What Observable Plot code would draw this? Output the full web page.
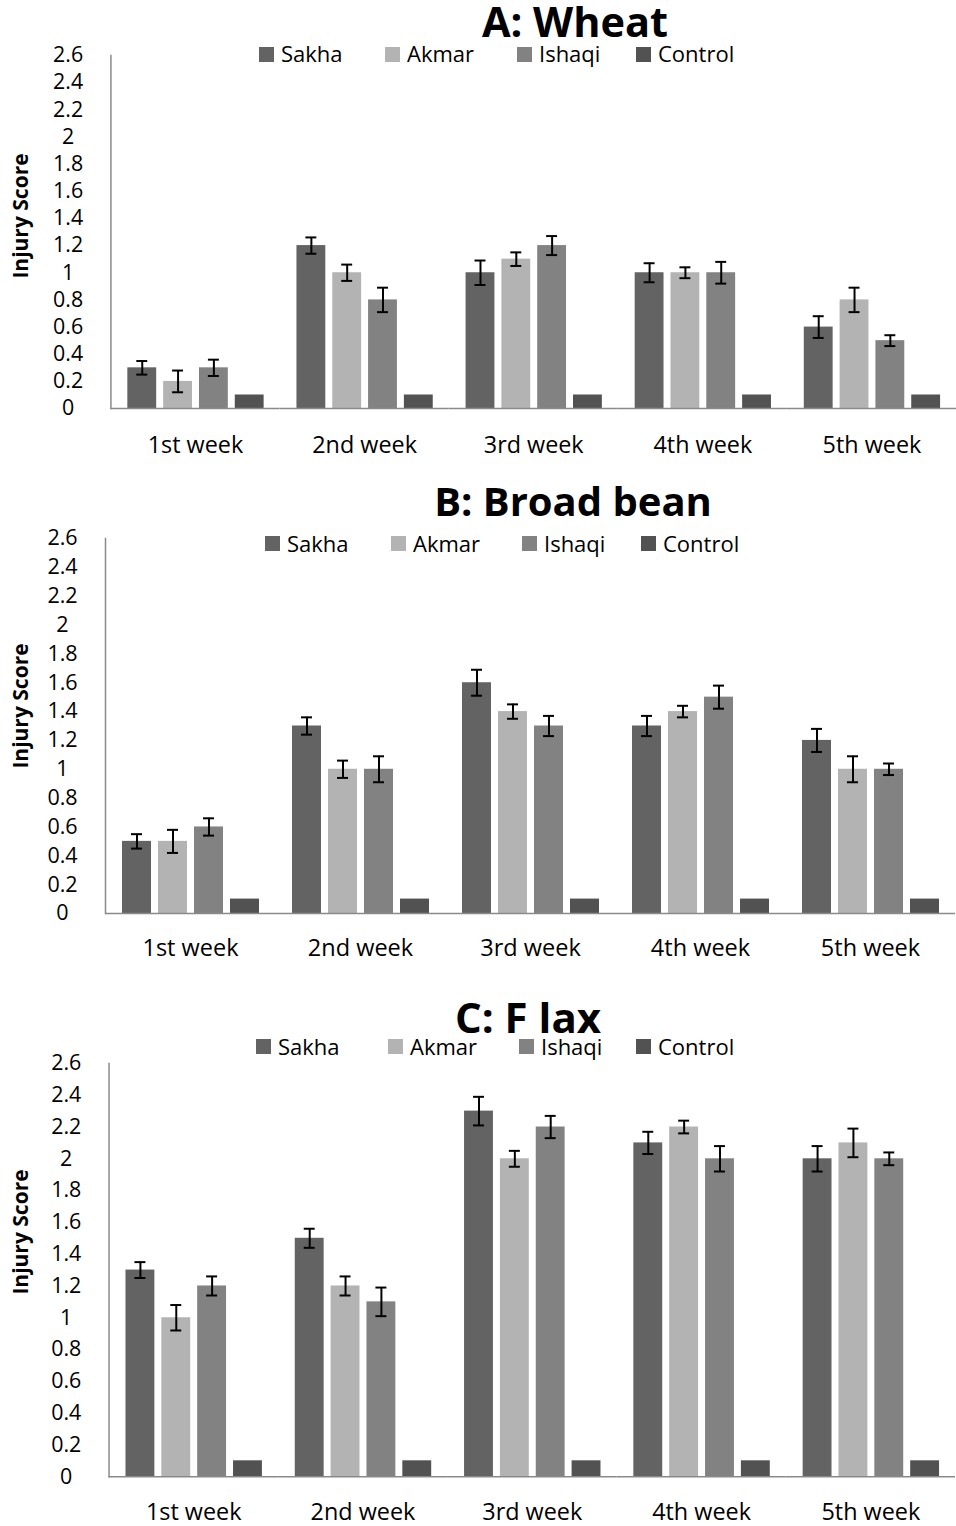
<!DOCTYPE html>
<html>
<head>
<meta charset="utf-8">
<script src="https://cdn.jsdelivr.net/npm/d3@7"></script>
<script src="https://cdn.jsdelivr.net/npm/@observablehq/plot@0.6"></script>
<style>
  html, body { margin: 0; padding: 0; background: #fff; overflow: hidden; }
  #root { position: relative; width: 956px; height: 1526px; overflow: hidden; font-family: "Open Sans", sans-serif; color: #000; }
  .abs { position: absolute; white-space: nowrap; }
  .title { font-weight: 700; transform: translateX(-50%); }
  .leg { font-size: 22px; line-height: 22px; }
  .sq { width: 15px; height: 15px; }
  .ylab { font-size: 21px; font-weight: 700; line-height: 21px; transform: translate(-50%, -50%) rotate(-90deg); }
  svg { position: absolute; }
</style>
</head>
<body>
<div id="root"></div>
<script>
// ---------- data ----------
const weeks = ["1st week", "2nd week", "3rd week", "4th week", "5th week"];
const series = ["Sakha", "Akmar", "Ishaqi", "Control"];
const seriesColors = ["#636363", "#b3b3b3", "#828282", "#525252"];
const yTicks = [0, 0.2, 0.4, 0.6, 0.8, 1, 1.2, 1.4, 1.6, 1.8, 2, 2.2, 2.4, 2.6];

const wheatSakha   = [0.3, 1.2, 1.0, 1.0, 0.6];
const wheatAkmar   = [0.2, 1.0, 1.1, 1.0, 0.8];
const wheatIshaqi  = [0.3, 0.8, 1.2, 1.0, 0.5];
const wheatControl = [0.1, 0.1, 0.1, 0.1, 0.1];
const wheatSakhaErr  = [0.05, 0.06, 0.09, 0.07, 0.08];
const wheatAkmarErr  = [0.08, 0.06, 0.05, 0.04, 0.09];
const wheatIshaqiErr = [0.06, 0.09, 0.07, 0.08, 0.04];

const beanSakha   = [0.5, 1.3, 1.6, 1.3, 1.2];
const beanAkmar   = [0.5, 1.0, 1.4, 1.4, 1.0];
const beanIshaqi  = [0.6, 1.0, 1.3, 1.5, 1.0];
const beanControl = [0.1, 0.1, 0.1, 0.1, 0.1];
const beanSakhaErr  = [0.05, 0.06, 0.09, 0.07, 0.08];
const beanAkmarErr  = [0.08, 0.06, 0.05, 0.04, 0.09];
const beanIshaqiErr = [0.06, 0.09, 0.07, 0.08, 0.04];

const flaxSakha   = [1.3, 1.5, 2.3, 2.1, 2.0];
const flaxAkmar   = [1.0, 1.2, 2.0, 2.2, 2.1];
const flaxIshaqi  = [1.2, 1.1, 2.2, 2.0, 2.0];
const flaxControl = [0.1, 0.1, 0.1, 0.1, 0.1];
const flaxSakhaErr  = [0.05, 0.06, 0.09, 0.07, 0.08];
const flaxAkmarErr  = [0.08, 0.06, 0.05, 0.04, 0.09];
const flaxIshaqiErr = [0.06, 0.09, 0.07, 0.08, 0.04];

const titles = ["A: Wheat", "B: Broad bean", "C: F lax"];
const yLabel = "Injury Score";

// ---------- layout ----------
const layouts = [
  {top: 40,   width: 961, height: 420, marginLeft: 111, marginBottom: 50, tickPad: 28,
   titleX: 575, titleBase: 38, titleSize: 41.5, legBase: 61.5, legX: [259, 385, 517, 636], ylabY: 216},
  {top: 523,  width: 955, height: 440, marginLeft: 105, marginBottom: 50, tickPad: 26,
   titleX: 573, titleBase: 517, titleSize: 40, legBase: 551, legX: [265, 391, 522, 641], ylabY: 706},
  {top: 1048, width: 960, height: 478, marginLeft: 108, marginBottom: 48, tickPad: 27,
   titleX: 528, titleBase: 1033, titleSize: 42, legBase: 1054, legX: [256, 388, 519, 636], ylabY: 1232}
];

const panels = [
  {values: [wheatSakha, wheatAkmar, wheatIshaqi, wheatControl], errors: [wheatSakhaErr, wheatAkmarErr, wheatIshaqiErr, null]},
  {values: [beanSakha, beanAkmar, beanIshaqi, beanControl], errors: [beanSakhaErr, beanAkmarErr, beanIshaqiErr, null]},
  {values: [flaxSakha, flaxAkmar, flaxIshaqi, flaxControl], errors: [flaxSakhaErr, flaxAkmarErr, flaxIshaqiErr, null]}
];

const root = document.getElementById("root");

function el(cls, text, css) {
  const d = document.createElement("div");
  d.className = "abs " + cls;
  if (text != null) d.textContent = text;
  Object.assign(d.style, css);
  root.appendChild(d);
  return d;
}

panels.forEach((p, k) => {
  const L = layouts[k];
  const rows = [];
  weeks.forEach((w, i) => series.forEach((s, j) => rows.push({
    week: w, series: s, value: p.values[j][i], err: p.errors[j] ? p.errors[j][i] : null
  })));
  const errRows = rows.filter(d => d.err != null);

  const chart = Plot.plot({
    width: L.width,
    height: L.height,
    marginLeft: L.marginLeft,
    marginRight: 0,
    marginTop: 15,
    marginBottom: L.marginBottom,
    style: {fontFamily: "'Open Sans', sans-serif", color: "#000", background: "transparent", overflow: "visible"},
    fx: {domain: weeks, padding: 0, label: null},
    x: {domain: series, paddingInner: 0.2, paddingOuter: 0.4, axis: null},
    y: {domain: [0, 2.6], axis: null},
    color: {domain: series, range: seriesColors},
    marks: [
      Plot.barY(rows, {fx: "week", x: "series", y: "value", fill: "series"}),
      Plot.ruleY([0], {stroke: "#8a8a8a", strokeWidth: 1.5}),
      Plot.frame({anchor: "left", facet: "super", stroke: "#8a8a8a", strokeWidth: 1.5}),
      Plot.ruleX(errRows, {fx: "week", x: "series", y1: d => d.value - d.err, y2: d => d.value + d.err, stroke: "#000", strokeWidth: 2}),
      Plot.tickY(errRows, {fx: "week", x: "series", y: d => d.value + d.err, stroke: "#000", strokeWidth: 2, insetLeft: 9, insetRight: 9}),
      Plot.tickY(errRows, {fx: "week", x: "series", y: d => d.value - d.err, stroke: "#000", strokeWidth: 2, insetLeft: 9, insetRight: 9}),
      Plot.axisY({ticks: yTicks, tickSize: 0, tickPadding: 43, textAnchor: "middle", tickFormat: d3.format("~g"), fontSize: 21.5, label: null}),
      Plot.axisFx({anchor: "bottom", tickSize: 0, tickPadding: L.tickPad, fontSize: 23.5, label: null})
    ]
  });
  chart.style.left = "0px";
  chart.style.top = L.top + "px";
  root.appendChild(chart);

  // title (line-height 0.8em so the box ends just under the baseline)
  const lh = L.titleSize * 0.8;
  const baseOff = (lh - 1.362 * L.titleSize) / 2 + 1.069 * L.titleSize;
  el("title", titles[k], {left: L.titleX + "px", top: (L.titleBase - baseOff) + "px",
    fontSize: L.titleSize + "px", lineHeight: lh + "px"});
  // legend
  series.forEach((s, j) => {
    el("sq", null, {left: L.legX[j] + "px", top: (L.legBase - 15) + "px", background: seriesColors[j]});
    el("leg", s, {left: (L.legX[j] + 22) + "px", top: (L.legBase - 19.5) + "px"});
  });
  // y label
  el("ylab", yLabel, {left: "20px", top: L.ylabY + "px"});
});
</script>
</body>
</html>
